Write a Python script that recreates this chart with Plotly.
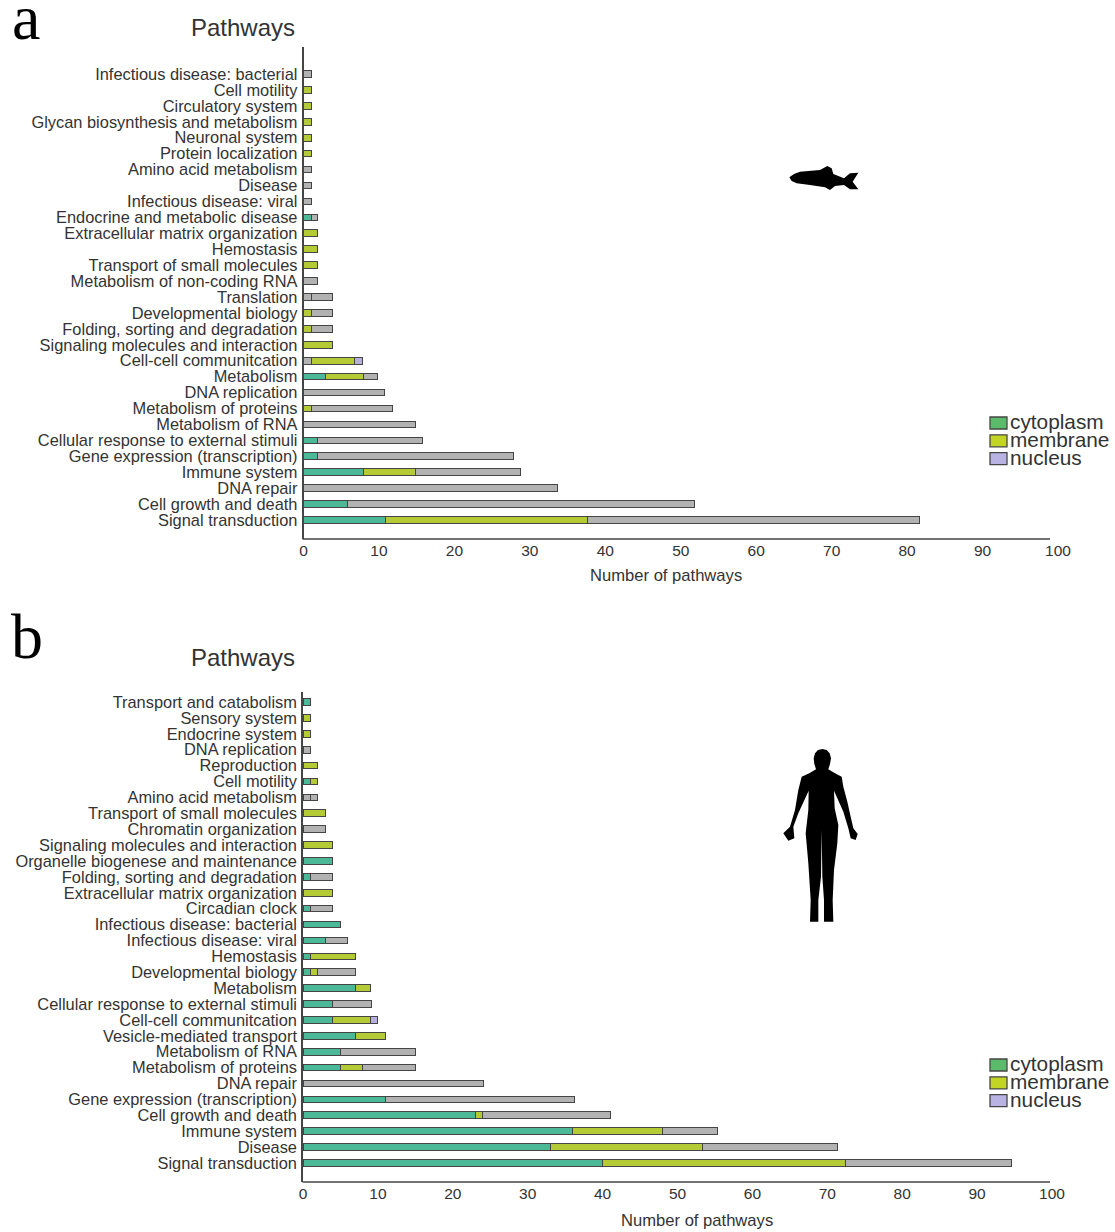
import plotly.graph_objects as go

W, H = 1115, 1232

# ---------- panel a (zebrafish), bottom to top ----------
a_categories = ["Signal transduction", "Cell growth and death", "DNA repair", "Immune system",
    "Gene expression (transcription)", "Cellular response to external stimuli", "Metabolism of RNA",
    "Metabolism of proteins", "DNA replication", "Metabolism", "Cell-cell communitcation",
    "Signaling molecules and interaction", "Folding, sorting and degradation", "Developmental biology",
    "Translation", "Metabolism of non-coding RNA", "Transport of small molecules", "Hemostasis",
    "Extracellular matrix organization", "Endocrine and metabolic disease", "Infectious disease: viral",
    "Disease", "Amino acid metabolism", "Protein localization", "Neuronal system",
    "Glycan biosynthesis and metabolism", "Circulatory system", "Cell motility",
    "Infectious disease: bacterial"]
a_lead_gray = [0, 0, 0, 0, 0, 0, 0, 0, 0, 0, 1, 0, 0, 0, 1, 0, 0, 0, 0, 0, 0, 0, 0, 0, 0, 0, 0, 0, 0]
a_cytoplasm = [10.9, 5.8, 0, 7.9, 1.9, 1.9, 0, 0, 0, 2.9, 0, 0, 0, 0, 0, 0, 0, 0, 0, 1, 0, 0, 0, 0, 0, 0, 0, 0, 0]
a_membrane = [26.8, 0, 0, 6.9, 0, 0, 0, 1, 0, 5, 5.8, 3.9, 1, 1, 0, 0, 1.9, 1.9, 1.9, 0, 0, 0, 0, 1, 1, 1, 1, 1, 0]
a_nucleus = [0, 0, 0, 0, 0, 0, 0, 0, 0, 0, 1, 0, 0, 0, 0, 0, 0, 0, 0, 0, 0, 0, 0, 0, 0, 0, 0, 0, 0]
a_other = [44, 46, 33.7, 14, 25.9, 13.9, 14.9, 10.8, 10.8, 1.9, 0, 0, 2.9, 2.9, 2.9, 1.9, 0, 0, 0, 0.9, 1, 1, 1, 0, 0, 0, 0, 0, 1]

# ---------- panel b (human), bottom to top ----------
b_categories = ["Signal transduction", "Disease", "Immune system", "Cell growth and death",
    "Gene expression (transcription)", "DNA repair", "Metabolism of proteins", "Metabolism of RNA",
    "Vesicle-mediated transport", "Cell-cell communitcation", "Cellular response to external stimuli",
    "Metabolism", "Developmental biology", "Hemostasis", "Infectious disease: viral",
    "Infectious disease: bacterial", "Circadian clock", "Extracellular matrix organization",
    "Folding, sorting and degradation", "Organelle biogenese and maintenance",
    "Signaling molecules and interaction", "Chromatin organization", "Transport of small molecules",
    "Amino acid metabolism", "Cell motility", "Reproduction", "DNA replication", "Endocrine system",
    "Sensory system", "Transport and catabolism"]
b_lead_gray = [0, 0, 0, 0, 0, 0, 0, 0, 0, 0, 0, 0, 0, 0, 0, 0, 0, 0, 0, 0, 0, 0, 0, 1, 0, 0, 0, 0, 0, 0]
b_cytoplasm = [40, 33, 36, 23, 11, 0, 5, 5, 7, 4, 4, 7, 1, 1, 3, 5, 1, 0, 1, 4, 0, 0, 0, 0, 1, 0, 0, 0, 0, 1]
b_membrane = [32.4, 20.3, 12, 1, 0, 0, 3, 0, 4, 5, 0, 2, 1, 6, 0, 0, 0, 4, 0, 0, 4, 0, 3, 0, 1, 2, 0, 1, 1, 0]
b_nucleus = [0, 0, 0, 0, 0, 0, 0, 0, 0, 1, 0, 0, 0, 0, 0, 0, 0, 0, 0, 0, 0, 0, 0, 0, 0, 0, 0, 0, 0, 0]
b_other = [22.2, 18, 7.3, 17, 25.2, 24.1, 7, 10, 0, 0, 5.1, 0, 5, 0, 3, 0, 3, 0, 3, 0, 0, 3, 0, 1, 0, 0, 1, 0, 0, 0]

x_ticks = [0, 10, 20, 30, 40, 50, 60, 70, 80, 90, 100]
legend_labels = ["cytoplasm", "membrane", "nucleus"]
panel_letters = ["a", "b"]
TITLE = "Pathways"
XTITLE = "Number of pathways"

TEAL, LIME, LAV, GRAY = "#4bb898", "#b4cb36", "#b6b1dc", "#b2b2b2"
EDGE, INK = "#454545", "#333333"
FONT = "Liberation Sans"


def nz(vals):
    return [v if v else None for v in vals]


fig = go.Figure()


def add_panel(cats, lead, cyto, memb, nucl, other, xa, ya):
    for name, vals, col in [("other", lead, GRAY), ("cytoplasm", cyto, TEAL), ("membrane", memb, LIME),
                            ("nucleus", nucl, LAV), ("other", other, GRAY)]:
        fig.add_trace(go.Bar(y=cats, x=nz(vals), name=name, orientation="h", xaxis=xa, yaxis=ya,
                             width=0.42, showlegend=False,
                             marker=dict(color=col, line=dict(color=EDGE, width=1))))


add_panel(a_categories, a_lead_gray, a_cytoplasm, a_membrane, a_nucleus, a_other, "x", "y")
add_panel(b_categories, b_lead_gray, b_cytoplasm, b_membrane, b_nucleus, b_other, "x2", "y2")


def px(x):
    return x / W


def py(y):
    return 1 - y / H


def xaxis(left, right, anchor):
    return dict(domain=[px(left), px(right)], range=[0, 100], anchor=anchor, tickvals=x_ticks,
                showgrid=False, zeroline=False, showline=False, ticks="", ticklen=0,
                tickfont=dict(family=FONT, size=15.5, color=INK))


def yaxis(top, bottom, n, cats, anchor):
    step = (bottom[1] - top[1]) / (n - 1)
    return dict(domain=[py(bottom[0]), py(top[0])], anchor=anchor, type="category",
                categoryorder="array", categoryarray=cats,
                range=[-(bottom[0] - bottom[1]) / step, n - 1 + (top[1] - top[0]) / step],
                showgrid=False, zeroline=False, showline=True, linecolor=EDGE, linewidth=1.5,
                ticks="outside", ticklen=1, tickcolor="rgba(0,0,0,0)", dtick=1, tickmode="linear",
                tickfont=dict(family=FONT, size=16.4, color=INK), automargin=False)


def path(points):
    return "M" + " L".join(f"{px(x):.5f},{py(y):.5f}" for x, y in points) + " Z"


def zoomed(points, ox, oy):
    return [(ox + x / 3, oy + y / 3) for x, y in points]


fish = zoomed([(58, 82), (72, 72), (90, 65), (150, 60), (172, 48), (185, 55), (190, 72), (222, 85), (240, 70),
               (265, 68), (248, 95), (265, 118), (240, 118), (222, 105), (195, 108), (180, 120), (165, 112),
               (120, 105), (80, 100), (65, 93)], 770, 150)
human = zoomed([(187, 57), (200, 60), (209, 70), (213, 85), (210, 102), (205, 118), (225, 130), (245, 140), (250, 170),
                (262, 215), (272, 260), (280, 295), (293, 312), (287, 330), (272, 325), (265, 295), (250, 245),
                (222, 182), (224, 235), (235, 285), (232, 340), (222, 420), (218, 510), (220, 575), (192, 575),
                (192, 510), (187, 440), (185, 300), (183, 440), (175, 510), (175, 575), (150, 575), (152, 510),
                (145, 400), (137, 310), (145, 240), (146, 182), (115, 250), (100, 290), (103, 325), (85, 332),
                (70, 310), (90, 290), (105, 240), (115, 180), (125, 140), (148, 130), (168, 118), (163, 102),
                (161, 85), (165, 70), (174, 60)], 760, 730)

shapes = [
    dict(type="path", xref="paper", yref="paper", path=path(fish), fillcolor="#000", line=dict(width=0)),
    dict(type="path", xref="paper", yref="paper", path=path(human), fillcolor="#000", line=dict(width=0)),
    dict(type="line", xref="paper", yref="paper", x0=px(302.5), x1=px(1050), y0=py(539), y1=py(539),
         line=dict(color=EDGE, width=1.5)),
    dict(type="line", xref="paper", yref="paper", x0=px(302.5), x1=px(1050), y0=py(1182), y1=py(1182),
         line=dict(color=EDGE, width=1.5)),
]
annotations = []


def text(x, y, s, size, family=FONT, color=INK, anchor="center"):
    annotations.append(dict(text=s, xref="paper", yref="paper", x=px(x), y=py(y), xanchor=anchor, yanchor="middle",
                            showarrow=False, font=dict(family=family, size=size, color=color),
                            borderpad=0, borderwidth=0))


def legend(top_y):
    for i, (lab, col) in enumerate(zip(legend_labels, ["#5cbb6a", "#c2d424", "#b9b3e4"])):
        y = top_y + i * 17.8
        shapes.append(dict(type="rect", xref="paper", yref="paper", x0=px(990), x1=px(1007),
                           y0=py(y - 6), y1=py(y + 6), fillcolor=col, line=dict(color=EDGE, width=1.3)))
        text(1010, y - 1.5, lab, 20.8, anchor="left")


text(243, 28, TITLE, 24)
text(243, 657, TITLE, 24)
text(666, 576, XTITLE, 16.6)
text(697, 1220, XTITLE, 16.6)
text(26, 17, panel_letters[0], 64, family="Liberation Serif", color="#000")
text(27, 636, panel_letters[1], 64, family="Liberation Serif", color="#000")
legend(423)
legend(1065)

fig.update_layout(
    width=W, height=H, margin=dict(l=0, r=0, t=0, b=0, autoexpand=False), barmode="stack", showlegend=False,
    paper_bgcolor="white", plot_bgcolor="white",
    xaxis=xaxis(303.5, 1058, "y"),
    yaxis=yaxis((47, 74), (539, 520), len(a_categories), a_categories, "x"),
    xaxis2=xaxis(303, 1052, "y2"),
    yaxis2=yaxis((692, 702), (1182, 1163), len(b_categories), b_categories, "x2"),
    shapes=shapes, annotations=annotations,
)

fig.write_html("out.html", config=dict(displayModeBar=False),
               post_script="document.body.style.margin='0';document.documentElement.style.overflow='hidden';")
